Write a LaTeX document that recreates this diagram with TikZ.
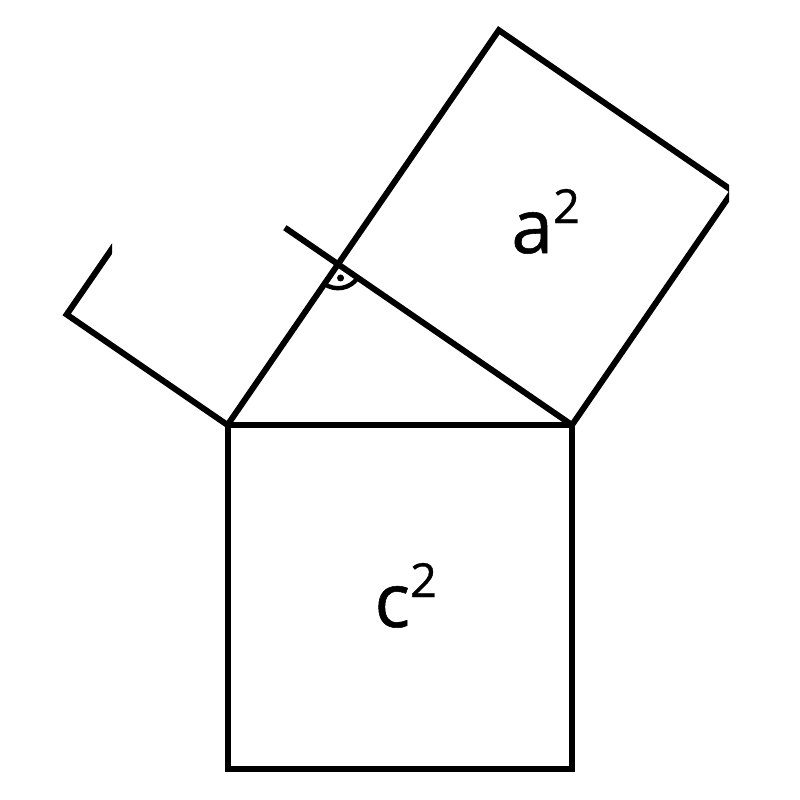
\documentclass[tikz,border=0pt]{standalone}
\usepackage{fontspec}
\setmainfont{Open Sans}
\newfontfamily\lblfont[FakeBold=0.7]{Open Sans}
\usetikzlibrary{calc}
\newcommand{\supdigit}[1]{\raisebox{15pt}{\fontsize{23.5}{23.5}\selectfont #1}}
\begin{document}
\begin{tikzpicture}[x=0.5pt,y=-0.5pt,
  edge/.style={line width=3pt,line join=miter,line cap=butt},
  anglemark/.style={line width=2.2pt},
  lbl/.style={font=\lblfont\fontsize{37.5}{37.5}\selectfont,inner sep=0pt,anchor=base west}]
\fill[white] (0,0) rectangle (800,800);
\useasboundingbox (0,0) rectangle (800,800);
\coordinate (A) at (227.5,425);
\coordinate (B) at (572,425);
\coordinate (C) at (338,264.2);
\coordinate (T) at (498.8,30.2);
\coordinate (R) at (732.8,191);
\coordinate (BL) at (227.5,769);
\coordinate (BR) at (572,769);
\coordinate (D1) at (66.7,314.5);
\coordinate (D2) at (140,208);
\coordinate (E) at (284.9,227.7);
% square c^2
\draw[edge] (A) -- (B) -- (BR) -- (BL) -- cycle;
% square a^2 (clipped at right)
\begin{scope}
\clip (0,0) rectangle (729,800);
\draw[edge] (A) -- (T) -- (R) -- (B);
\end{scope}
% hypotenuse side extended
\draw[edge] (E) -- (B);
% partial square b^2
\begin{scope}
\clip (0,0) -- (112,0) -- (112,300) -- (300,300) -- (300,800) -- (0,800) -- cycle;
\draw[edge] (A) -- (D1) -- (D2);
\end{scope}
% right angle mark
\draw[anglemark] ($(C)+(34.5:24)$) arc[start angle=34.5,end angle=124.5,radius=24];
\fill ($(C)+(79.5:14)$) circle[radius=3.5];
\node[lbl] (la) at (511,253) {a\supdigit{2}};
\node[lbl] (lc) at (374,627) {c\supdigit{2}};
\end{tikzpicture}
\end{document}
